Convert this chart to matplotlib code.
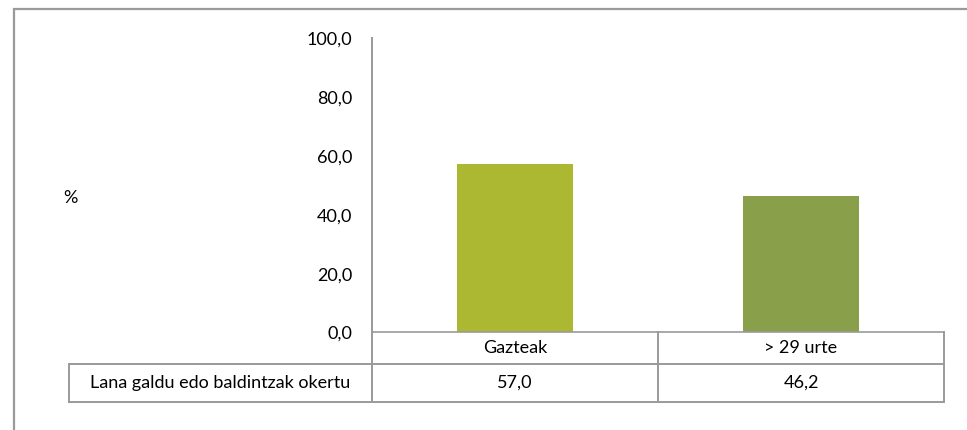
import matplotlib
matplotlib.use("Agg")
import matplotlib.pyplot as plt
import matplotlib.transforms as mtrans
from matplotlib.patches import Rectangle

categories = ["Gazteak", "> 29 urte"]
values = [57.0, 46.2]
series_name = "Lana galdu edo baldintzak okertu"
value_labels = ["57,0", "46,2"]
yticks = [0, 20, 40, 60, 80, 100]
ytick_labels = ["0,0", "20,0", "40,0", "60,0", "80,0", "100,0"]
colors = ["#ADB832", "#8A9F4A"]

plt.rcParams['font.family'] = ['Lato', 'DejaVu Sans']
FS = 13
W, H = 967, 430
fig = plt.figure(figsize=(W/100, H/100), dpi=100)

# outer border (only top and left visible)
fig.add_artist(Rectangle((14/W, -0.1), 1.2, (H-9)/H + 0.1, transform=fig.transFigure,
                         fill=False, edgecolor="#9A9A9A", linewidth=1.6))

x0, x1 = 372, 944
ytop, ybot = 38, 332
ax = fig.add_axes([x0/W, (H-ybot)/H, (x1-x0)/W, (ybot-ytop)/H])
ax.set_xlim(-0.5, 1.5)
ax.set_ylim(0, 100)
xs = list(range(len(categories)))
ax.bar(xs, values, width=0.405, color=colors)

for s in ["top", "right"]:
    ax.spines[s].set_visible(False)
ax.spines["left"].set_color("#9A9A9A")
ax.spines["bottom"].set_color("#9A9A9A")
ax.spines["left"].set_linewidth(1.2)
ax.spines["bottom"].set_linewidth(1.2)
ax.spines["left"].set_bounds(1.0, 100)
ax.set_xticks([])
ax.set_yticks(yticks)
ax.set_yticklabels(ytick_labels, fontsize=FS, va="center")
ax.tick_params(axis="y", length=0, pad=14)
offset = mtrans.ScaledTranslation(0, -2/100, fig.dpi_scale_trans)
for lbl in ax.get_yticklabels():
    lbl.set_transform(lbl.get_transform() + offset)

# % label
fig.text(70/W, (H-198)/H, "%", fontsize=FS, ha="center", va="center")

# data table
axh = ybot - ytop
axw = x1 - x0
r1 = -32/axh
r2 = -70/axh
left = (69 - x0)/axw
lc = "#9A9A9A"
lw = 1.4
kw = dict(transform=ax.transAxes, clip_on=False, color=lc, linewidth=lw)
ax.plot([left, 1], [r1, r1], **kw)
ax.plot([left, 1], [r2, r2], **kw)
ax.plot([0, 0], [1, r2], **kw)
ax.plot([0.5, 0.5], [0, r2], **kw)
ax.plot([1, 1], [0, r2], **kw)
ax.plot([left, left], [r1, r2], **kw)

for i, (c, v) in enumerate(zip(categories, value_labels)):
    xf = (i + 0.5) / 2
    ax.text(xf, r1/2, c, transform=ax.transAxes, ha="center", va="center", fontsize=FS)
    ax.text(xf, (r1 + r2)/2, v, transform=ax.transAxes, ha="center", va="center", fontsize=FS)
ax.text((left + 0)/2, (r1 + r2)/2, series_name, transform=ax.transAxes,
        ha="center", va="center", fontsize=FS)

fig.savefig("out.png", dpi=100)
